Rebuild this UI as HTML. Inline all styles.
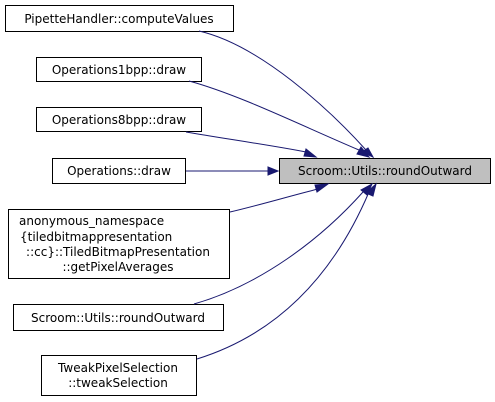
<!DOCTYPE html>
<html><head><style>body{margin:0;background:#fff}svg{display:block}</style></head><body>
<svg width="495" height="402" viewBox="0 0 495 402" xmlns="http://www.w3.org/2000/svg" font-family="DejaVu Sans, Liberation Sans, sans-serif" font-size="12">
<g fill="#fff" stroke="#000" stroke-width="1">
<rect x="5.5" y="5.5" width="228" height="26"/>
<rect x="36.5" y="57.5" width="165" height="24"/>
<rect x="36.5" y="107.5" width="165" height="24"/>
<rect x="52.5" y="158.5" width="133" height="25"/>
<rect x="8.5" y="209.5" width="221" height="69"/>
<rect x="13.5" y="304.5" width="210" height="26"/>
<rect x="41.5" y="355.5" width="155" height="40"/>
<rect x="279.5" y="158.5" width="211" height="25" fill="#bfbfbf"/>
</g>
<g fill="none" stroke="#191970" stroke-width="1">
<path d="M199,31 C260,45 330,110 366,150"/>
<path d="M189,81 C240,95 300,125 359,150"/>
<path d="M186,132 C220,138 270,145 306,152"/>
<path d="M186,171 L268,171"/>
<path d="M230,212 C260,205 290,196 318,189"/>
<path d="M194,304 C260,285 320,240 363,192"/>
<path d="M197,359 C290,330 340,260 369,192"/>
</g>
<g fill="#191970" stroke="#191970">
<polygon points="373,157 362,152 368,148"/>
<polygon points="369,157 357,154 361,147"/>
<polygon points="316,157 304,156 306,149"/>
<polygon points="278,171 268,175 268,167"/>
<polygon points="328,184 317,192 315,185"/>
<polygon points="372,184 367,195 361,190"/>
<polygon points="376,184 373,196 366,193"/>
</g>
<g fill="#000" text-anchor="middle">
<text x="119" y="23">PipetteHandler::computeValues</text>
<text x="119" y="74">Operations1bpp::draw</text>
<text x="119" y="124">Operations8bpp::draw</text>
<text x="119" y="175">Operations::draw</text>
<text x="385" y="175">Scroom::Utils::roundOutward</text>
<text x="118" y="226" text-anchor="start" x-shift="0"></text>
<text x="19" y="225" text-anchor="start">anonymous_namespace</text>
<text x="20" y="241" text-anchor="start">{tiledbitmappresentation</text>
<text x="118" y="256">::cc}::TiledBitmapPresentation</text>
<text x="118" y="271">::getPixelAverages</text>
<text x="118" y="322">Scroom::Utils::roundOutward</text>
<text x="118" y="372">TweakPixelSelection</text>
<text x="118" y="387">::tweakSelection</text>
</g>
</svg>
</body></html>
